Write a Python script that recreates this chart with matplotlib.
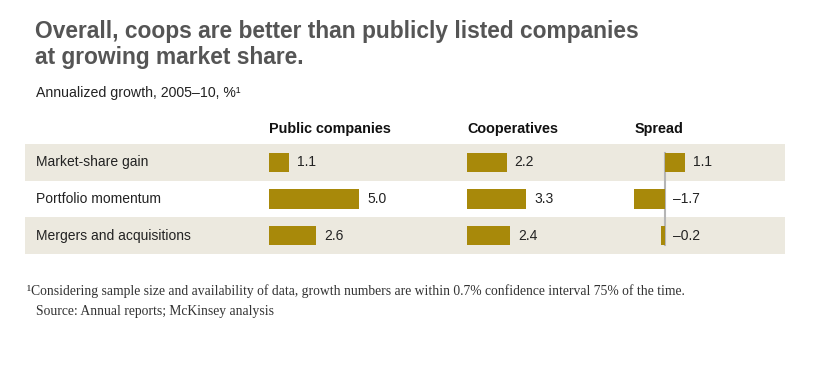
import matplotlib
matplotlib.use('Agg')
import matplotlib.pyplot as plt

# data
rows = ['Market-share gain', 'Portfolio momentum', 'Mergers and acquisitions']
public = [1.1, 5.0, 2.6]
coops = [2.2, 3.3, 2.4]
spread = [1.1, -1.7, -0.2]
headers = ['Public companies', 'Cooperatives', 'Spread']

title = 'Overall, coops are better than publicly listed companies\nat growing market share.'
subtitle = 'Annualized growth, 2005\u201310, %\u00b9'
footnote = '\u00b9Considering sample size and availability of data, growth numbers are within 0.7% confidence interval 75% of the time.'
source = 'Source: Annual reports; McKinsey analysis'

W, H = 826, 365
gold = '#A8890A'
band = '#ECE9DF'
sans = 'Liberation Sans'

fig = plt.figure(figsize=(W / 100, H / 100), dpi=100)
bg = fig.add_axes([0, 0, 1, 1])
bg.set_xlim(0, W)
bg.set_ylim(H, 0)
bg.axis('off')

# table area in pixels
top, bottom = 144, 254
rh = (bottom - top) / len(rows)
for i in range(len(rows)):
    if i % 2 == 0:
        bg.axhspan(top + i * rh, top + (i + 1) * rh, xmin=25 / W, xmax=785 / W, color=band, lw=0)
    bg.text(36, top + (i + 0.5) * rh, rows[i], fontsize=10, family=sans, color='#222222', va='center')

bg.text(35, 20, title, fontsize=16.4, family=sans, weight='bold', color='#555555',
        va='top', linespacing=1.15)
bg.text(36, 93, subtitle, fontsize=10.2, family=sans, color='#222222', va='center')
bg.text(27, 291, footnote, fontsize=9.85, family='Liberation Serif', color='#333333', va='center')
bg.text(36, 311, source, fontsize=9.85, family='Liberation Serif', color='#333333', va='center')

px = 18.0  # pixels per unit


def col_axes(x0, lo, hi):
    left = x0 + lo * px
    ax = fig.add_axes([left / W, 1 - bottom / H, (hi - lo) * px / W, (bottom - top) / H])
    ax.set_xlim(lo, hi)
    ax.set_ylim(len(rows) - 0.5, -0.5)
    ax.axis('off')
    ax.patch.set_alpha(0)
    return ax


cols = [(269, 0, 6, public, 269), (467, 0, 6, coops, 467), (665, -2, 2, spread, 635)]
for (x0, lo, hi, vals, hx), head in zip(cols, headers):
    ax = col_axes(x0, lo, hi)
    ypos = range(len(vals))
    ax.barh(ypos, vals, height=0.52, color=gold, lw=0)
    for y, v in zip(ypos, vals):
        xv = max(v, 0)
        lab = ('%.1f' % v).replace('-', '\u2013')
        ax.annotate(lab, (xv, y), xytext=(8, 0), textcoords='offset pixels',
                    va='center', ha='left', fontsize=10, family=sans, color='#222222')
    if lo < 0:
        ax.axvline(0, ymin=0.08, ymax=0.92, color='#B5B5B5', lw=1.5, zorder=0)
    bg.text(hx, 129, head, fontsize=10.4, family=sans, weight='bold', color='#111111', va='center')

fig.savefig('out.png', dpi=100)
